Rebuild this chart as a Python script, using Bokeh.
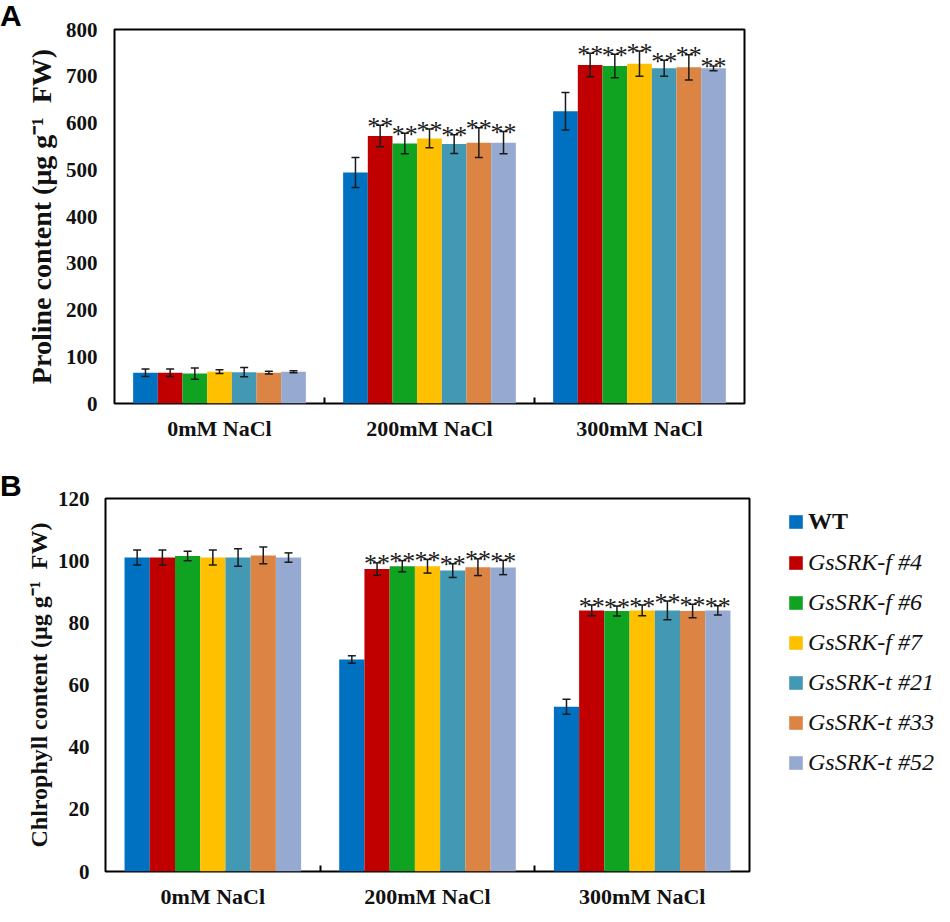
from bokeh.plotting import figure
from bokeh.models import (ColumnDataSource, Whisker, TeeHead, FixedTicker, Range1d,
                          Legend, LegendItem, Div)
from bokeh.layouts import column, row
from bokeh.embed import file_html
from bokeh.resources import INLINE
from bokeh.core.properties import value

# ---------------- data ----------------
groups = ["0mM NaCl", "200mM NaCl", "300mM NaCl"]
lines = ["WT", "GsSRK-f #4", "GsSRK-f #6", "GsSRK-f #7",
         "GsSRK-t #21", "GsSRK-t #33", "GsSRK-t #52"]
colors = ["#0070C0", "#C00000", "#10A321", "#FFC000", "#4398B3", "#DC8443", "#95A9D1"]

proline_mean = {
    "WT":          [66, 494, 625],
    "GsSRK-f #4":  [66, 572, 724],
    "GsSRK-f #6":  [64, 556, 722],
    "GsSRK-f #7":  [68, 567, 727],
    "GsSRK-t #21": [67, 555, 717],
    "GsSRK-t #33": [66, 558, 719],
    "GsSRK-t #52": [68, 558, 717],
}
proline_err = {
    "WT":          [8, 32, 40],
    "GsSRK-f #4":  [8, 23, 25],
    "GsSRK-f #6":  [12, 22, 25],
    "GsSRK-f #7":  [4, 20, 27],
    "GsSRK-t #21": [10, 20, 17],
    "GsSRK-t #33": [3, 32, 27],
    "GsSRK-t #52": [2, 24, 5],
}
chl_mean = {
    "WT":          [101.0, 68.2, 53.0],
    "GsSRK-f #4":  [101.0, 97.3, 84.0],
    "GsSRK-f #6":  [101.5, 98.2, 83.8],
    "GsSRK-f #7":  [101.0, 98.2, 84.0],
    "GsSRK-t #21": [101.0, 96.8, 84.0],
    "GsSRK-t #33": [101.7, 97.9, 83.8],
    "GsSRK-t #52": [101.0, 97.8, 84.0],
}
chl_err = {
    "WT":          [2.4, 1.2, 2.4],
    "GsSRK-f #4":  [2.4, 2.0, 1.7],
    "GsSRK-f #6":  [1.5, 1.8, 1.6],
    "GsSRK-f #7":  [2.4, 2.2, 1.7],
    "GsSRK-t #21": [2.8, 2.2, 3.0],
    "GsSRK-t #33": [2.7, 2.7, 2.2],
    "GsSRK-t #52": [1.5, 2.3, 1.5],
}
signif = {ln: (["", "", ""] if ln == "WT" else ["", "**", "**"]) for ln in lines}

proline_ticks = [0, 100, 200, 300, 400, 500, 600, 700, 800]
chl_ticks = [0, 20, 40, 60, 80, 100, 120]
panel_letters = ["A", "B"]

SERIF = "Liberation Serif"
BAR_W = 0.1175
LETTER_W = 22


def letter_div(letter, height, top_pad):
    html = ('<div style="font-family: \'Liberation Sans\'; font-weight: bold; '
            'font-size: 30px; line-height: 1; color: black; margin: 0; '
            f'padding-top: {top_pad}px;">{letter}</div>')
    return Div(text=html, width=LETTER_W, height=height, margin=(0, 0, 0, 0),
               align="start")


def make_panel(means, errs, yticks, ylabel, width, height, borders,
               title_size, title_standoff, label_standoff):
    bl, br, bt, bb = borders
    p = figure(width=width, height=height, output_backend="svg", toolbar_location=None,
               x_range=Range1d(0, 3), y_range=Range1d(yticks[0], yticks[-1]),
               min_border_left=bl, min_border_right=br, min_border_top=bt,
               min_border_bottom=bb)
    p.outline_line_color = "black"
    p.outline_line_width = 2
    p.xgrid.visible = False
    p.ygrid.visible = False

    for j, ln in enumerate(lines):
        xs = [g + 0.5 + (j - 3) * BAR_W for g in range(len(groups))]
        m = means[ln]
        e = errs[ln]
        src = ColumnDataSource(dict(
            x=xs, top=m,
            upper=[a + b for a, b in zip(m, e)],
            lower=[a - b for a, b in zip(m, e)],
            sig=signif[ln],
        ))
        p.vbar(x="x", top="top", bottom=0, width=BAR_W, source=src,
               fill_color=colors[j], line_color=None)
        w = Whisker(base="x", upper="upper", lower="lower", source=src,
                    line_color="#1a1a1a", line_width=1.5, level="annotation",
                    upper_head=TeeHead(size=8, line_width=1.5, line_color="#1a1a1a"),
                    lower_head=TeeHead(size=8, line_width=1.5, line_color="#1a1a1a"))
        p.add_layout(w)
        p.text(x="x", y="upper", text="sig", source=src, text_align="center",
               text_baseline="alphabetic", y_offset=1,
               text_font=value(SERIF), text_font_size="26px", text_color="#1a1a1a")

    # x axis
    xa = p.xaxis[0]
    xa.ticker = FixedTicker(ticks=[0.5, 1.5, 2.5], minor_ticks=[1, 2])
    xa.major_label_overrides = {0.5: groups[0], 1.5: groups[1], 2.5: groups[2]}
    xa.axis_line_color = None
    xa.major_tick_line_color = None
    xa.minor_tick_in = 6
    xa.minor_tick_out = 0
    xa.minor_tick_line_width = 2
    xa.minor_tick_line_color = "black"
    xa.major_label_text_font = SERIF
    xa.major_label_text_font_style = "bold"
    xa.major_label_text_font_size = "22px"
    xa.major_label_text_color = "#111111"
    xa.major_label_standoff = 6

    # y axis
    ya = p.yaxis[0]
    ya.ticker = FixedTicker(ticks=yticks)
    ya.axis_line_color = None
    ya.major_tick_line_color = None
    ya.minor_tick_line_color = None
    ya.major_tick_out = 0
    ya.major_tick_in = 0
    ya.major_label_standoff = label_standoff
    ya.major_label_text_font = SERIF
    ya.major_label_text_font_style = "bold"
    ya.major_label_text_font_size = "21px"
    ya.major_label_text_color = "#111111"
    ya.axis_label = ylabel
    ya.axis_label_text_font = SERIF
    ya.axis_label_text_font_style = "bold"
    ya.axis_label_text_font_size = title_size
    ya.axis_label_text_color = "#111111"
    ya.axis_label_standoff = title_standoff
    return p


def legend_fig(width, height):
    p = figure(width=width, height=height, output_backend="svg", toolbar_location=None,
               x_range=Range1d(0, 1), y_range=Range1d(0, 1),
               x_axis_type=None, y_axis_type=None,
               min_border=0, min_border_left=0, min_border_right=0,
               min_border_top=0, min_border_bottom=0)
    p.outline_line_color = None
    p.grid.visible = False
    # zero-size placeholder renderers that only carry the legend swatches
    rs = [p.vbar(x=[0], top=[0], bottom=[0], width=0, fill_color=c, line_color=None)
          for c in colors]
    common = dict(glyph_width=17, glyph_height=17, label_standoff=4, padding=0,
                  margin=0, spacing=13, label_height=27,
                  label_text_font=SERIF, label_text_font_size="24px",
                  label_text_color="#111111",
                  border_line_color=None, background_fill_alpha=0)
    leg1 = Legend(items=[LegendItem(label=lines[0], renderers=[rs[0]])],
                  location=(36, 336), label_text_font_style="bold", **common)
    leg2 = Legend(items=[LegendItem(label=lines[k], renderers=[rs[k]])
                         for k in range(1, len(lines))],
                  location=(36, 95), label_text_font_style="italic", **common)
    p.add_layout(leg1)
    p.add_layout(leg2)
    return p


HA, HB = 458, 454
pA = make_panel(proline_mean, proline_err, proline_ticks,
                "Proline content (μg g⁻¹\u00a0 FW)",
                912, HA, (84, 190, 29, 55), "28px", 6, 17)
pB = make_panel(chl_mean, chl_err, chl_ticks,
                "Chlrophyll content (μg g⁻¹\u00a0 FW)",
                729, HB, (74, 2, 40, 41), "24px", 3, 16)
pL = legend_fig(183, HB)

layout = column(row(letter_div(panel_letters[0], HA, 1), pA, spacing=0),
                row(letter_div(panel_letters[1], HB, 13), pB, pL, spacing=0),
                spacing=0)
open("out.html", "w").write(file_html(layout, INLINE))
